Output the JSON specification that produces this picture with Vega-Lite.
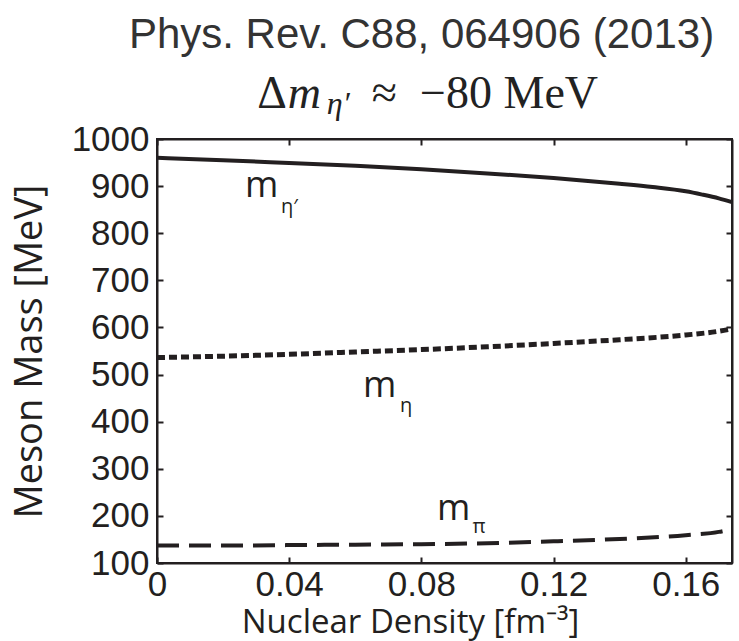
{
  "$schema": "https://vega.github.io/schema/vega-lite/v6.json",
  "width": 575,
  "height": 424,
  "autosize": {"type": "none"},
  "padding": {"left": 157, "top": 139, "right": 7, "bottom": 78},
  "background": "white",
  "config": {
    "view": {"stroke": "#231f20", "strokeWidth": 2},
    "axis": {"grid": false, "domainColor": "#231f20", "domainWidth": 2, "tickColor": "#231f20", "tickWidth": 2, "labelColor": "#231f20", "titleColor": "#231f20", "labelFont": "Liberation Sans", "titleFont": "Open Sans", "titleFontWeight": "normal"}
  },
  "title": {"text": "Phys. Rev. C88, 064906 (2013)", "font": "Liberation Sans", "fontSize": 42, "fontWeight": "normal", "color": "#333333", "anchor": "middle", "offset": 14, "dx": -23},
  "datasets": {
    "etaprime": [
      {"density": 0, "mass": 960}, {"density": 0.02, "mass": 955}, {"density": 0.04, "mass": 949}, {"density": 0.06, "mass": 943}, {"density": 0.08, "mass": 936}, {"density": 0.10, "mass": 927}, {"density": 0.12, "mass": 917}, {"density": 0.14, "mass": 905}, {"density": 0.15, "mass": 898}, {"density": 0.16, "mass": 889}, {"density": 0.165, "mass": 882}, {"density": 0.17, "mass": 874}, {"density": 0.174, "mass": 866}
    ],
    "eta": [
      {"density": 0, "mass": 536}, {"density": 0.02, "mass": 539}, {"density": 0.04, "mass": 543}, {"density": 0.06, "mass": 548}, {"density": 0.08, "mass": 553}, {"density": 0.10, "mass": 559}, {"density": 0.12, "mass": 566}, {"density": 0.14, "mass": 574}, {"density": 0.16, "mass": 584}, {"density": 0.17, "mass": 592}, {"density": 0.174, "mass": 597}
    ],
    "pion": [
      {"density": 0, "mass": 137}, {"density": 0.02, "mass": 137}, {"density": 0.04, "mass": 138}, {"density": 0.06, "mass": 139}, {"density": 0.08, "mass": 140}, {"density": 0.10, "mass": 142}, {"density": 0.12, "mass": 146}, {"density": 0.14, "mass": 151}, {"density": 0.16, "mass": 159}, {"density": 0.17, "mass": 166}, {"density": 0.174, "mass": 172}
    ],
    "mlabels": [
      {"density": 0.0266, "mass": 877, "text": "m"}, {"density": 0.0623, "mass": 452, "text": "m"}, {"density": 0.0847, "mass": 191, "text": "m"}
    ],
    "sublabels": [
      {"density": 0.0375, "mass": 843, "text": "η′"}, {"density": 0.0735, "mass": 420, "text": "η"}, {"density": 0.0955, "mass": 163, "text": "π"}
    ],
    "head_upright": [
      {"density": 0.0303, "mass": 1066, "text": "Δ"},
      {"density": 0.0650, "mass": 1066, "text": "≈"},
      {"density": 0.0796, "mass": 1066, "text": "−80 MeV"}
    ],
    "head_italic": [
      {"density": 0.0396, "mass": 1066, "text": "m"}
    ],
    "head_sub": [
      {"density": 0.0514, "mass": 1053, "text": "η′"}
    ]
  },
  "layer": [
    {
      "data": {"name": "etaprime"},
      "mark": {"type": "line", "color": "#231f20", "strokeWidth": 4, "interpolate": "monotone"},
      "encoding": {
        "x": {"field": "density", "type": "quantitative", "scale": {"domain": [0, 0.174], "nice": false, "zero": false},
          "axis": {"orient": "bottom", "values": [0, 0.04, 0.08, 0.12, 0.16], "format": ".2~f", "labelFontSize": 35, "tickSize": -6, "labelPadding": 10, "labelFlush": false, "title": "Nuclear Density [fm⁻³]", "titleFontSize": 33, "titleBaseline": "alphabetic", "titleY": 69, "titleX": 253}},
        "y": {"field": "mass", "type": "quantitative", "scale": {"domain": [100, 1000], "nice": false, "zero": false},
          "axis": {"orient": "left", "values": [100, 200, 300, 400, 500, 600, 700, 800, 900, 1000], "format": "d", "labelFontSize": 35, "tickSize": -6, "labelPadding": 14, "labelFlush": false, "title": "Meson Mass [MeV]", "titleFontSize": 38, "titlePadding": 22}}
      }
    },
    {
      "data": {"name": "eta"},
      "mark": {"type": "line", "color": "#231f20", "strokeWidth": 5, "strokeDash": [8, 4], "interpolate": "monotone"},
      "encoding": {
        "x": {"field": "density", "type": "quantitative", "axis": {"orient": "top", "values": [0, 0.04, 0.08, 0.12, 0.16], "labels": false, "tickSize": -6, "title": null}},
        "y": {"field": "mass", "type": "quantitative", "axis": {"orient": "right", "values": [100, 200, 300, 400, 500, 600, 700, 800, 900, 1000], "labels": false, "tickSize": -6, "title": null}}
      }
    },
    {
      "data": {"name": "pion"},
      "mark": {"type": "line", "color": "#231f20", "strokeWidth": 4, "strokeDash": [22, 10], "interpolate": "monotone"},
      "encoding": {
        "x": {"field": "density", "type": "quantitative", "axis": null},
        "y": {"field": "mass", "type": "quantitative", "axis": null}
      }
    },
    {
      "data": {"name": "mlabels"},
      "mark": {"type": "text", "font": "Open Sans", "fontSize": 36, "align": "left", "baseline": "alphabetic", "color": "#231f20"},
      "encoding": {
        "x": {"field": "density", "type": "quantitative", "axis": null},
        "y": {"field": "mass", "type": "quantitative", "axis": null},
        "text": {"field": "text"}
      }
    },
    {
      "data": {"name": "sublabels"},
      "mark": {"type": "text", "font": "Open Sans", "fontSize": 20, "align": "left", "baseline": "alphabetic", "color": "#231f20"},
      "encoding": {
        "x": {"field": "density", "type": "quantitative", "axis": null},
        "y": {"field": "mass", "type": "quantitative", "axis": null},
        "text": {"field": "text"}
      }
    },
    {
      "data": {"name": "head_upright"},
      "mark": {"type": "text", "font": "Liberation Serif", "fontSize": 46, "align": "left", "baseline": "alphabetic", "color": "#222222", "clip": false},
      "encoding": {
        "x": {"field": "density", "type": "quantitative", "axis": null},
        "y": {"field": "mass", "type": "quantitative", "axis": null},
        "text": {"field": "text"}
      }
    },
    {
      "data": {"name": "head_italic"},
      "mark": {"type": "text", "font": "Liberation Serif", "fontStyle": "italic", "fontSize": 46, "align": "left", "baseline": "alphabetic", "color": "#222222", "clip": false},
      "encoding": {
        "x": {"field": "density", "type": "quantitative", "axis": null},
        "y": {"field": "mass", "type": "quantitative", "axis": null},
        "text": {"field": "text"}
      }
    },
    {
      "data": {"name": "head_sub"},
      "mark": {"type": "text", "font": "Liberation Serif", "fontStyle": "italic", "fontSize": 32, "align": "left", "baseline": "alphabetic", "color": "#222222", "clip": false},
      "encoding": {
        "x": {"field": "density", "type": "quantitative", "axis": null},
        "y": {"field": "mass", "type": "quantitative", "axis": null},
        "text": {"field": "text"}
      }
    }
  ],
  "resolve": {"axis": {"x": "independent", "y": "independent"}}
}
